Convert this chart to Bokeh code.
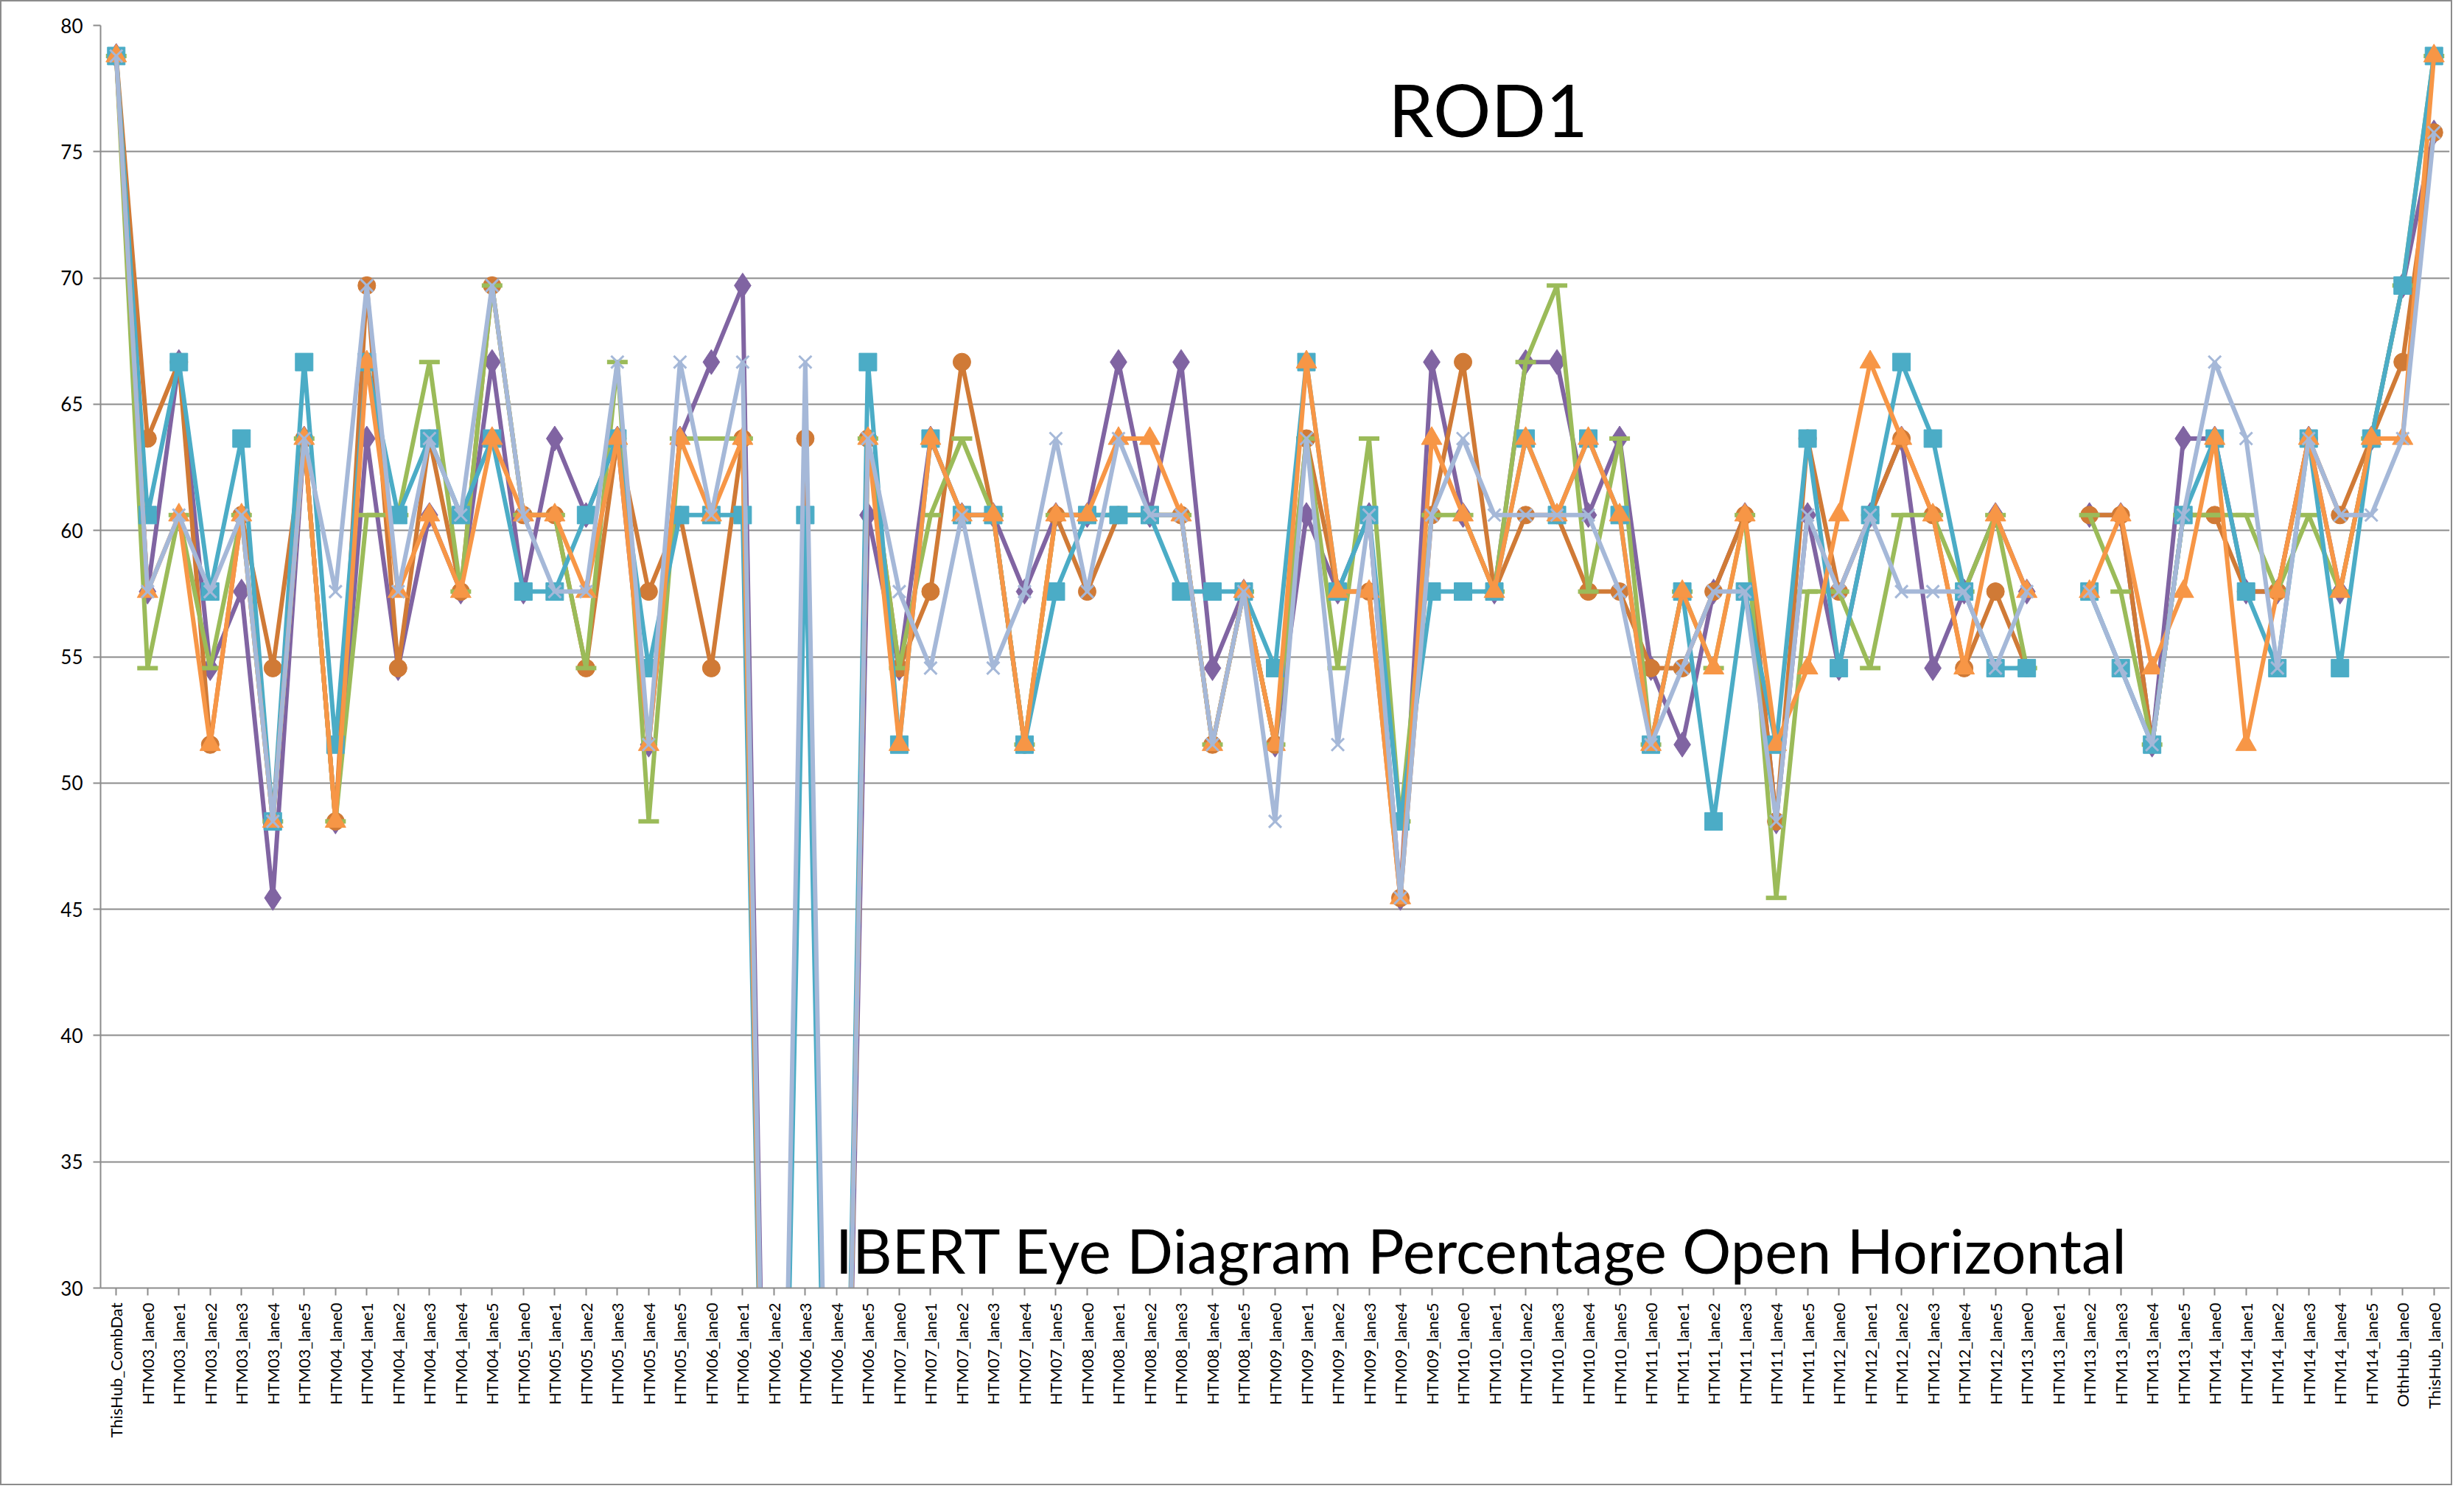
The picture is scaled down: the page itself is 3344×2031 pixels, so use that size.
import math
from bokeh.plotting import figure
from bokeh.models import FactorRange, Range1d, ColumnDataSource, Label, SingleIntervalTicker
from bokeh.embed import file_html
from bokeh.resources import INLINE

NAN = float("nan")

# ---- categories (tick labels) ----
modules = ["HTM03", "HTM04", "HTM05", "HTM06", "HTM07", "HTM08",
           "HTM09", "HTM10", "HTM11", "HTM12", "HTM13", "HTM14"]
lanes = ["lane0", "lane1", "lane2", "lane3", "lane4", "lane5"]
categories = (["ThisHub_CombDat"]
              + [f"{m}_{l}" for m in modules for l in lanes]
              + ["OthHub_lane0", "ThisHub_lane0"])

# ---- series values (percentage open) ----
purple_diamond = [78.79,
    57.58, 66.67, 54.55, 57.58, 45.45, 63.64,
    48.48, 63.64, 54.55, 60.61, 57.58, 66.67,
    57.58, 63.64, 60.61, 63.64, 51.52, 63.64,
    66.67, 69.70, 0, 0, 0, 60.61,
    54.55, 63.64, 60.61, 60.61, 57.58, 60.61,
    60.61, 66.67, 60.61, 66.67, 54.55, 57.58,
    51.52, 60.61, 57.58, 60.61, 45.45, 66.67,
    60.61, 57.58, 66.67, 66.67, 60.61, 63.64,
    54.55, 51.52, 57.58, 60.61, 48.48, 60.61,
    54.55, 60.61, 63.64, 54.55, 57.58, 60.61,
    57.58, NAN, 60.61, 60.61, 51.52, 63.64,
    63.64, 57.58, 57.58, 63.64, 57.58, 63.64,
    69.70, 75.76]

brown_circle = [78.79,
    63.64, 66.67, 51.52, 60.61, 54.55, 63.64,
    48.48, 69.70, 54.55, 63.64, 57.58, 69.70,
    60.61, 60.61, 54.55, 63.64, 57.58, 60.61,
    54.55, 63.64, 0, 63.64, 0, 63.64,
    54.55, 57.58, 66.67, 60.61, 51.52, 60.61,
    57.58, 60.61, 60.61, 60.61, 51.52, 57.58,
    51.52, 63.64, 57.58, 57.58, 45.45, 60.61,
    66.67, 57.58, 60.61, 60.61, 57.58, 57.58,
    54.55, 54.55, 57.58, 60.61, 48.48, 63.64,
    57.58, 60.61, 63.64, 60.61, 54.55, 57.58,
    54.55, NAN, 60.61, 60.61, 51.52, 60.61,
    60.61, 57.58, 57.58, 63.64, 60.61, 63.64,
    66.67, 75.76]

green_dash = [78.79,
    54.55, 60.61, 54.55, 60.61, 48.48, 63.64,
    48.48, 60.61, 60.61, 66.67, 57.58, 69.70,
    60.61, 60.61, 54.55, 66.67, 48.48, 63.64,
    63.64, 63.64, 0, 0, 0, 63.64,
    54.55, 60.61, 63.64, 60.61, 51.52, 60.61,
    60.61, 60.61, 60.61, 60.61, 51.52, 57.58,
    51.52, 63.64, 54.55, 63.64, 48.48, 60.61,
    60.61, 57.58, 66.67, 69.70, 57.58, 63.64,
    51.52, 57.58, 54.55, 60.61, 45.45, 57.58,
    57.58, 54.55, 60.61, 60.61, 57.58, 60.61,
    54.55, NAN, 60.61, 57.58, 51.52, 60.61,
    60.61, 60.61, 57.58, 60.61, 57.58, 63.64,
    69.70, 78.79]

teal_square = [78.79,
    60.61, 66.67, 57.58, 63.64, 48.48, 66.67,
    51.52, 66.67, 60.61, 63.64, 60.61, 63.64,
    57.58, 57.58, 60.61, 63.64, 54.55, 60.61,
    60.61, 60.61, 0, 60.61, 0, 66.67,
    51.52, 63.64, 60.61, 60.61, 51.52, 57.58,
    60.61, 60.61, 60.61, 57.58, 57.58, 57.58,
    54.55, 66.67, 57.58, 60.61, 48.48, 57.58,
    57.58, 57.58, 63.64, 60.61, 63.64, 60.61,
    51.52, 57.58, 48.48, 57.58, 51.52, 63.64,
    54.55, 60.61, 66.67, 63.64, 57.58, 54.55,
    54.55, NAN, 57.58, 54.55, 51.52, 60.61,
    63.64, 57.58, 54.55, 63.64, 54.55, 63.64,
    69.70, 78.79]

orange_triangle = [78.79,
    57.58, 60.61, 51.52, 60.61, 48.48, 63.64,
    48.48, 66.67, 57.58, 60.61, 57.58, 63.64,
    60.61, 60.61, 57.58, 63.64, 51.52, 63.64,
    60.61, 63.64, 0, 0, 0, 63.64,
    51.52, 63.64, 60.61, 60.61, 51.52, 60.61,
    60.61, 63.64, 63.64, 60.61, 51.52, 57.58,
    51.52, 66.67, 57.58, 57.58, 45.45, 63.64,
    60.61, 57.58, 63.64, 60.61, 63.64, 60.61,
    51.52, 57.58, 54.55, 60.61, 51.52, 54.55,
    60.61, 66.67, 63.64, 60.61, 54.55, 60.61,
    57.58, NAN, 57.58, 60.61, 54.55, 57.58,
    63.64, 51.52, 57.58, 63.64, 57.58, 63.64,
    63.64, 78.79]

grey_x = [78.79,
    57.58, 60.61, 57.58, 60.61, 48.48, 63.64,
    57.58, 69.70, 57.58, 63.64, 60.61, 69.70,
    60.61, 57.58, 57.58, 66.67, 51.52, 66.67,
    60.61, 66.67, 0, 66.67, 0, 63.64,
    57.58, 54.55, 60.61, 54.55, 57.58, 63.64,
    57.58, 63.64, 60.61, 60.61, 51.52, 57.58,
    48.48, 63.64, 51.52, 60.61, 45.45, 60.61,
    63.64, 60.61, 60.61, 60.61, 60.61, 57.58,
    51.52, 54.55, 57.58, 57.58, 48.48, 60.61,
    57.58, 60.61, 57.58, 57.58, 57.58, 54.55,
    57.58, NAN, 57.58, 54.55, 51.52, 60.61,
    66.67, 63.64, 54.55, 63.64, 60.61, 60.61,
    63.64, 75.76]

series = [
    ("purple_diamond", purple_diamond, "#8064A2", "diamond", 34),
    ("brown_circle", brown_circle, "#D07A36", "circle", 24),
    ("green_dash", green_dash, "#9BBB59", "dash", 28),
    ("teal_square", teal_square, "#4BACC6", "square", 24),
    ("orange_triangle", orange_triangle, "#F79646", "triangle", 28),
    ("grey_x", grey_x, "#A5B8D8", "x", 24),
]

source = ColumnDataSource(dict(cat=categories,
                               **{name: vals for name, vals, *_ in series}))

p = figure(width=3328, height=2015, x_range=FactorRange(*categories),
           y_range=Range1d(30, 80), output_backend="svg", toolbar_location=None,
           min_border_left=134, min_border_right=6, min_border_top=32,
           min_border_bottom=270, outline_line_color=None,
           background_fill_color="white", border_fill_color="white")
p.styles = {"border": "2px solid #8c8c8c"}

for name, vals, color, marker, size in series:
    p.line(x="cat", y=name, source=source, line_color=color, line_width=6)
    if marker in ("dash", "x"):
        p.scatter(x="cat", y=name, source=source, marker=marker, size=size,
                  line_color=color, line_width=6 if marker == "dash" else 3)
    else:
        p.scatter(x="cat", y=name, source=source, marker=marker, size=size,
                  fill_color=color, line_color=color)

# axes / grid styling (Excel look)
p.yaxis.ticker = SingleIntervalTicker(interval=5)
p.ygrid.ticker = SingleIntervalTicker(interval=5)
p.ygrid.grid_line_color = "#8C8C8C"
p.ygrid.grid_line_width = 2
p.xgrid.grid_line_color = None
for ax in (p.xaxis, p.yaxis):
    ax.axis_line_color = "#8C8C8C"
    ax.axis_line_width = 2
    ax.major_tick_line_color = "#8C8C8C"
    ax.major_tick_line_width = 2
    ax.major_tick_out = 10
    ax.major_tick_in = 0
    ax.minor_tick_line_color = None
    ax.major_label_text_color = "black"
    ax.major_label_text_font = "Lato"
p.yaxis.major_label_text_font_size = "26px"
p.yaxis.major_label_standoff = 14
p.xaxis.major_label_text_font_size = "22px"
p.xaxis.major_label_orientation = math.pi / 2
p.xaxis.major_label_standoff = 10

# chart texts, positioned in data coordinates
p.add_layout(Label(x=44.3, y=76.7, text="ROD1", text_font="Lato",
                   text_font_size="98px", text_align="center",
                   text_baseline="middle", text_color="black"))
p.add_layout(Label(x=44.1, y=30.05, text="IBERT Eye Diagram Percentage Open Horizontal",
                   text_font="Lato", text_font_size="83px", text_align="center",
                   text_baseline="bottom", text_color="black"))

open("out.html", "w").write(file_html(p, INLINE))
